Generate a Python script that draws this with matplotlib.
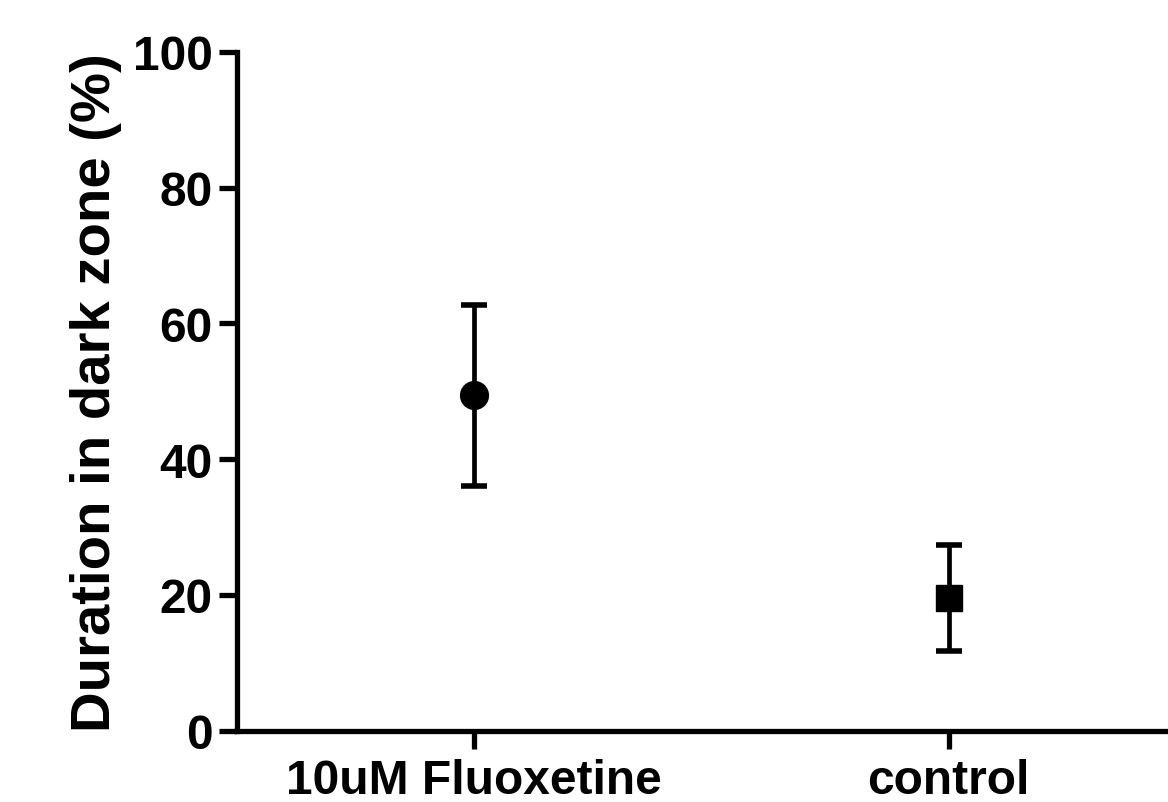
import matplotlib

matplotlib.use("Agg")

import matplotlib.pyplot as plt

groups = ["10uM Fluoxetine", "control"]
means = [49.4, 19.5]
err_low = [36.1, 11.7]
err_high = [62.7, 27.3]
markers = ["o", "s"]
y_ticks = [0, 20, 40, 60, 80, 100]

plt.rcParams["font.family"] = ["Liberation Sans", "DejaVu Sans"]
plt.rcParams["font.weight"] = "bold"

fig = plt.figure(figsize=(11.68, 8.03), dpi=100)
ax = fig.add_axes([236.5 / 1168, 1 - 731.7 / 803, 1 - 236.5 / 1168, (731.7 - 53) / 803])

for i, (m, lo, hi, mk) in enumerate(zip(means, err_low, err_high, markers)):
    ax.errorbar(
        [i], [m],
        yerr=[[m - lo], [hi - m]],
        fmt=mk, color="black", markersize=20 if mk == "o" else 18.5,
        elinewidth=3.4, capsize=9.5, capthick=4,
    )

ax.set_xlim(-0.5, 1.462)
ax.set_ylim(0, 100)
ax.set_yticks(y_ticks)
ax.set_xticks(range(len(groups)))
ax.set_xticklabels(groups)
ax.set_ylabel("Duration in dark zone (%)", fontsize=40.5, fontweight="bold", labelpad=8)

for side in ("top", "right"):
    ax.spines[side].set_visible(False)
for side in ("left", "bottom"):
    ax.spines[side].set_linewidth(3.8)
    ax.spines[side].set_capstyle("projecting")

ax.tick_params(axis="both", width=3.8, length=13, labelsize=34.5, pad=4)
ax.tick_params(axis="x", pad=7)
for label in ax.get_xticklabels() + ax.get_yticklabels():
    label.set_fontweight("bold")

fig.savefig("out.png", dpi=100)
